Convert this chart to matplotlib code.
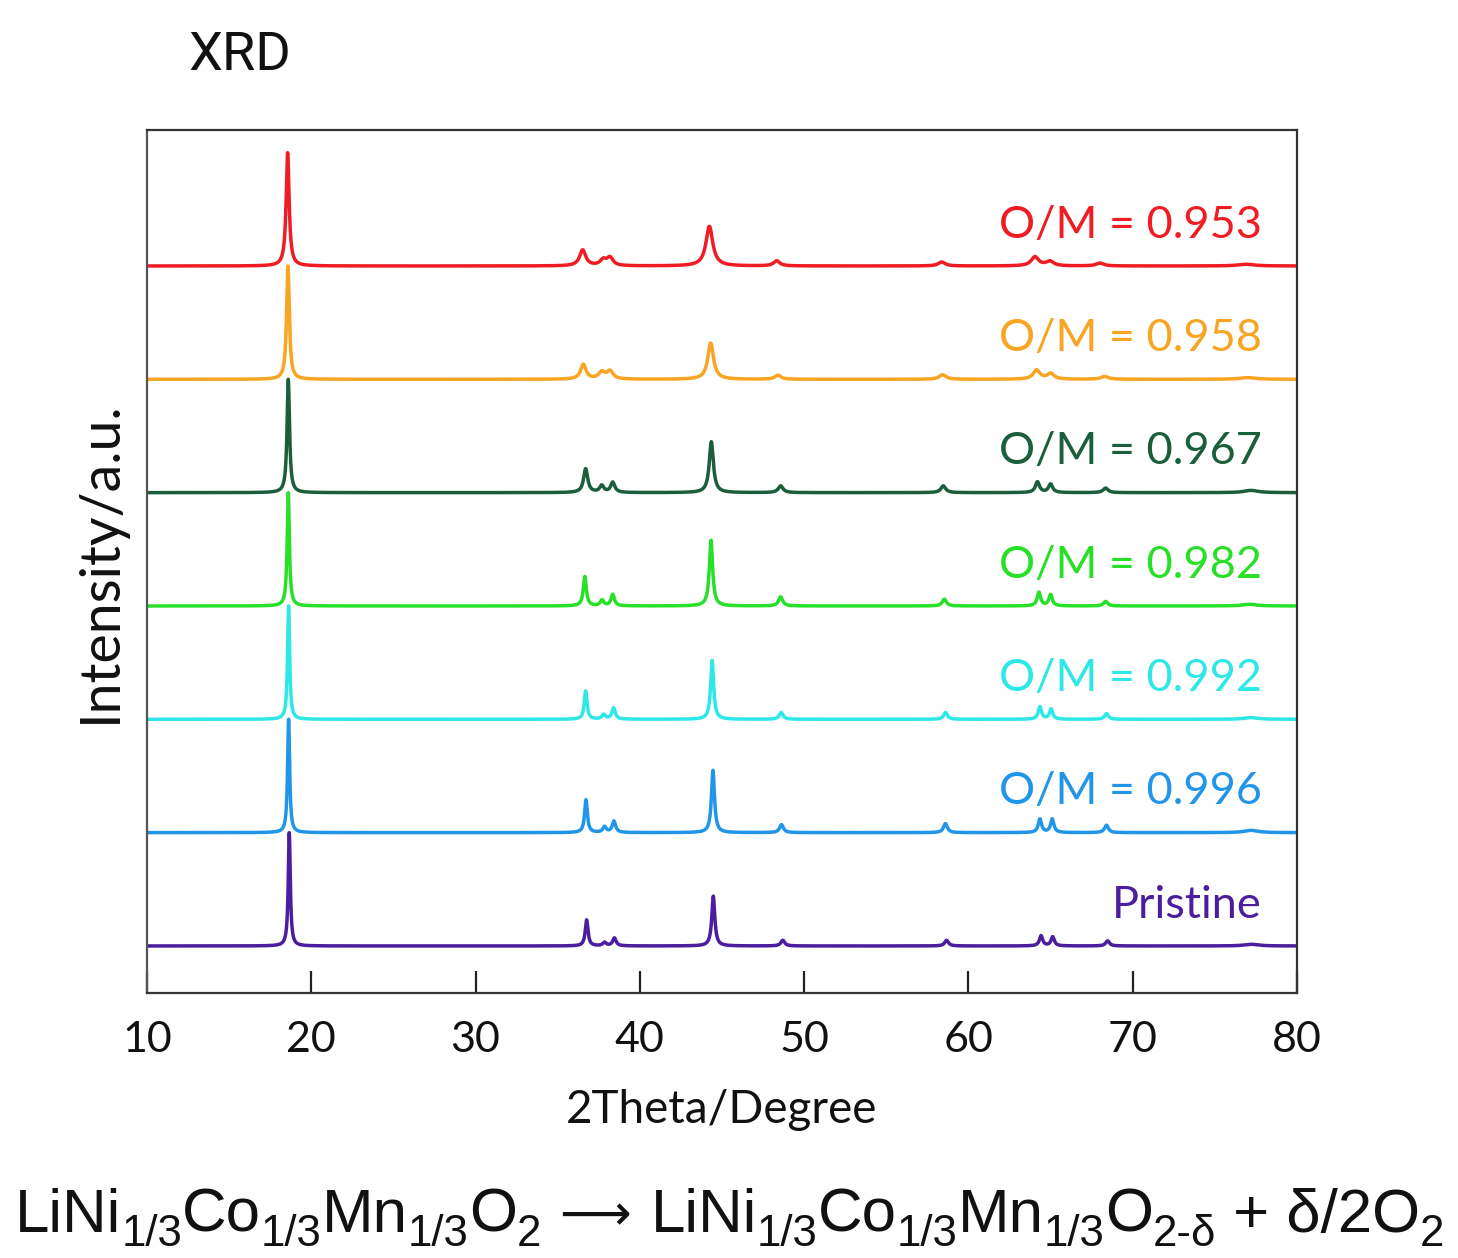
import numpy as np
import matplotlib
matplotlib.use("Agg")
import matplotlib.pyplot as plt

# ---------------- data ----------------
labels = ["O/M = 0.953", "O/M = 0.958", "O/M = 0.967", "O/M = 0.982",
          "O/M = 0.992", "O/M = 0.996", "Pristine"]
colors = ["#ef1c24", "#f7a523", "#1b5e3b", "#29e029", "#2ee8e8", "#2196e8", "#4a1e9e"]
offsets = [6, 5, 4, 3, 2, 1, 0]

# peak positions (2theta, degrees) per series
pos_red    = [18.56, 36.52, 37.77, 38.18, 44.23, 48.33, 58.37, 64.05, 64.96, 68.00, 76.9]
pos_orange = [18.58, 36.56, 37.68, 38.18, 44.31, 48.40, 58.43, 64.15, 65.00, 68.30, 77.0]
pos_dgreen = [18.60, 36.70, 37.68, 38.35, 44.35, 48.57, 58.47, 64.20, 65.00, 68.35, 77.2]
pos_green  = [18.60, 36.65, 37.70, 38.35, 44.33, 48.57, 58.53, 64.29, 65.00, 68.35, 77.1]
pos_cyan   = [18.62, 36.70, 37.80, 38.40, 44.40, 48.60, 58.61, 64.35, 65.03, 68.40, 77.2]
pos_blue   = [18.62, 36.72, 37.85, 38.42, 44.45, 48.62, 58.60, 64.35, 65.10, 68.40, 77.2]
pos_purple = [18.66, 36.76, 37.85, 38.45, 44.47, 48.70, 58.67, 64.42, 65.13, 68.47, 77.2]

# normalised peak heights per series
h_red    = [1.00, 0.14, 0.05, 0.07, 0.35, 0.045, 0.035, 0.08, 0.04, 0.025, 0.015]
h_orange = [1.00, 0.13, 0.06, 0.07, 0.32, 0.035, 0.040, 0.08, 0.05, 0.025, 0.015]
h_dgreen = [1.00, 0.21, 0.06, 0.09, 0.45, 0.060, 0.060, 0.095, 0.075, 0.040, 0.020]
h_green  = [1.00, 0.26, 0.05, 0.10, 0.58, 0.080, 0.060, 0.12, 0.10, 0.040, 0.015]
h_cyan   = [1.00, 0.25, 0.04, 0.10, 0.52, 0.060, 0.060, 0.11, 0.09, 0.050, 0.015]
h_blue   = [1.00, 0.29, 0.05, 0.10, 0.55, 0.070, 0.080, 0.12, 0.12, 0.065, 0.020]
h_purple = [1.00, 0.23, 0.03, 0.07, 0.44, 0.050, 0.050, 0.09, 0.08, 0.045, 0.015]

# peak widths (FWHM, degrees) per series
w_red    = [0.22, 0.45, 0.45, 0.45, 0.50, 0.45, 0.50, 0.55, 0.55, 0.55, 1.2]
w_orange = [0.20, 0.40, 0.45, 0.45, 0.42, 0.45, 0.50, 0.50, 0.50, 0.55, 1.2]
w_dgreen = [0.18, 0.30, 0.30, 0.30, 0.30, 0.35, 0.35, 0.30, 0.30, 0.35, 1.0]
w_green  = [0.16, 0.22, 0.25, 0.25, 0.24, 0.30, 0.30, 0.25, 0.25, 0.30, 1.0]
w_cyan   = [0.15, 0.20, 0.25, 0.25, 0.22, 0.28, 0.28, 0.24, 0.24, 0.28, 1.0]
w_blue   = [0.15, 0.20, 0.25, 0.25, 0.22, 0.28, 0.28, 0.24, 0.24, 0.28, 1.0]
w_purple = [0.15, 0.20, 0.25, 0.25, 0.22, 0.28, 0.28, 0.24, 0.24, 0.28, 1.0]

positions = [pos_red, pos_orange, pos_dgreen, pos_green, pos_cyan, pos_blue, pos_purple]
heights = [h_red, h_orange, h_dgreen, h_green, h_cyan, h_blue, h_purple]
widths = [w_red, w_orange, w_dgreen, w_green, w_cyan, w_blue, w_purple]

xticks = [10, 20, 30, 40, 50, 60, 70, 80]

# chemical equation: (text, kind) kind: 0 normal, 1 subscript, 2 arrow
equation = [("LiNi", 0), ("1/3", 1), ("Co", 0), ("1/3", 1), ("Mn", 0), ("1/3", 1),
            ("O", 0), ("2", 1), ("\u27f6", 2),
            ("LiNi", 0), ("1/3", 1), ("Co", 0), ("1/3", 1), ("Mn", 0), ("1/3", 1),
            ("O", 0), ("2-\u03b4", 1), (" + \u03b4/2O", 0), ("2", 1)]

# ---------------- figure ----------------
fig = plt.figure(figsize=(14.58, 12.58), dpi=100)
ax = fig.add_axes([147/1458, 1-993/1258, 1150/1458, 863/1258])

two_theta = np.linspace(10, 80, 7001)


def profile(x, p, h, w):
    y = np.zeros_like(x)
    for pi, hi, wi in zip(p, h, w):
        g = wi / 2.0
        y += hi * g**2 / ((x - pi)**2 + g**2)
    return y * (max(h) / y.max())


for lab, col, off, p, h, w in zip(labels, colors, offsets, positions, heights, widths):
    y = profile(two_theta, p, h, w)
    ax.plot(two_theta, y + off, color=col, lw=2.5, solid_joinstyle='round')
    ax.text(77.85, off + 0.36, lab, color=col, fontsize=32.5, family='Lato',
            ha='right', va='center')

ax.set_xlim(10, 80)
ax.set_ylim(-0.415, 7.2)
ax.set_xticks(xticks)
ax.set_xticklabels([str(t) for t in xticks])
ax.set_yticks([])
ax.tick_params(axis='x', direction='in', length=16, width=1.6, colors='#222222',
               labelsize=31, pad=20, labelcolor='#111111')
for lab in ax.get_xticklabels():
    lab.set_family('Lato')
for s in ax.spines.values():
    s.set_linewidth(1.6)
    s.set_color('#333333')
ax.spines['left'].set_color('#555555')

ax.set_xlabel("2Theta/Degree", fontsize=33, family='Lato', color='#111111', labelpad=22)
ax.set_ylabel("Intensity/a.u.", fontsize=40, family='Lato', color='#111111', labelpad=15)

fig.text(188/1458, 1-70/1258, "XRD", fontsize=39, family='Roboto', color='#111111',
         ha='left', va='baseline')

# equation drawn piece by piece with lowered subscripts
fig.canvas.draw()
renderer = fig.canvas.get_renderer()
x_px = 15.0
base_px = 1258 - 1232
for txt, kind in equation:
    if kind == 2:
        x_px += 18
        t = fig.text(x_px / 1458, (base_px + 2) / 1258, txt, fontsize=36,
                     family=['DejaVu Sans'], color='#111111', ha='left', va='baseline')
        x_px += t.get_window_extent(renderer=renderer).width + 20
        continue
    fs = 31.5 if kind else 44.5
    dy = -14 if kind else 0
    t = fig.text(x_px / 1458, (base_px + dy) / 1258, txt, fontsize=fs,
                 family=['Liberation Sans', 'DejaVu Sans'], color='#111111',
                 ha='left', va='baseline')
    x_px += t.get_window_extent(renderer=renderer).width

fig.savefig("out.png", dpi=100)
